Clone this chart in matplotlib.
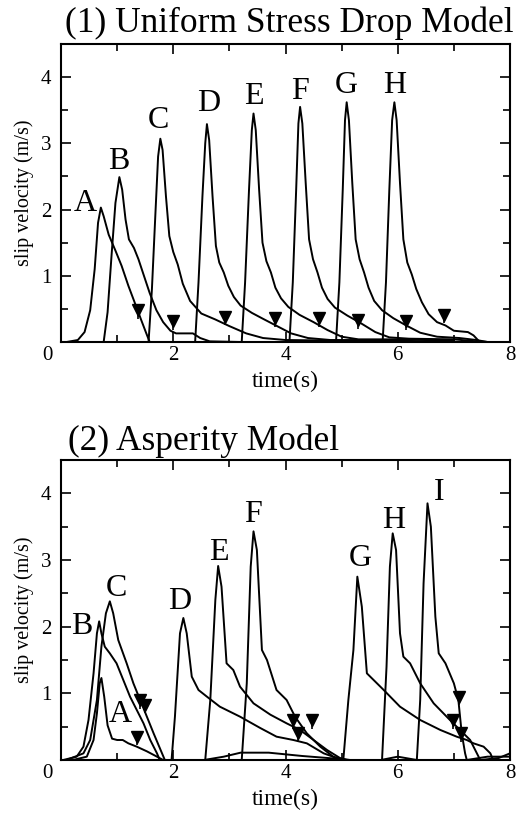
import numpy as np
import matplotlib
matplotlib.use("Agg")
import matplotlib.pyplot as plt
from matplotlib.ticker import MultipleLocator

# --- data: (time s, slip velocity m/s) ---
# (1) uniform stress drop model
UNI_A = [(0.10, 0.0), (0.30, 0.03), (0.42, 0.15), (0.52, 0.48), (0.60, 1.10), (0.66, 1.80),
         (0.71, 2.03), (0.76, 1.90), (0.85, 1.62), (0.97, 1.38), (1.08, 1.15), (1.20, 0.85),
         (1.32, 0.58), (1.43, 0.33), (1.52, 0.13), (1.58, 0.0)]
UNI_B = [(0.76, 0.0), (0.83, 0.45), (0.90, 1.30), (0.97, 2.10), (1.04, 2.49), (1.09, 2.30),
         (1.15, 1.85), (1.21, 1.55), (1.30, 1.42), (1.38, 1.25), (1.47, 1.02), (1.58, 0.74),
         (1.70, 0.48), (1.82, 0.30), (1.95, 0.17), (2.05, 0.13), (2.35, 0.13), (2.48, 0.06),
         (2.65, 0.01), (3.20, 0.0)]
UNI_C = [(1.56, 0.0), (1.62, 0.80), (1.68, 1.90), (1.73, 2.80), (1.77, 3.07), (1.81, 2.90),
         (1.87, 2.20), (1.93, 1.60), (2.00, 1.36), (2.08, 1.17), (2.17, 0.88), (2.30, 0.62),
         (2.50, 0.43), (2.75, 0.34), (3.00, 0.24), (3.30, 0.13), (3.60, 0.06), (4.00, 0.03),
         (5.00, 0.02), (6.00, 0.0)]
UNI_D = [(2.39, 0.0), (2.45, 0.90), (2.52, 2.20), (2.57, 3.00), (2.60, 3.29), (2.64, 3.05),
         (2.70, 2.20), (2.76, 1.45), (2.82, 1.20), (2.90, 1.05), (2.98, 0.85), (3.08, 0.68),
         (3.20, 0.55), (3.40, 0.44), (3.60, 0.35), (3.85, 0.24), (4.10, 0.13), (4.40, 0.06),
         (4.80, 0.03), (5.50, 0.03), (6.50, 0.01)]
UNI_E = [(3.22, 0.0), (3.28, 0.90), (3.35, 2.30), (3.40, 3.20), (3.43, 3.45), (3.47, 3.20),
         (3.53, 2.30), (3.59, 1.50), (3.66, 1.22), (3.74, 1.05), (3.82, 0.82), (3.92, 0.66),
         (4.05, 0.53), (4.25, 0.41), (4.50, 0.30), (4.75, 0.18), (5.00, 0.08), (5.30, 0.04),
         (6.00, 0.04), (7.00, 0.02)]
UNI_F = [(4.07, 0.0), (4.13, 0.90), (4.19, 2.30), (4.23, 3.30), (4.26, 3.55), (4.30, 3.30),
         (4.36, 2.40), (4.42, 1.55), (4.49, 1.25), (4.57, 1.05), (4.65, 0.82), (4.75, 0.65),
         (4.88, 0.52), (5.10, 0.40), (5.35, 0.28), (5.60, 0.15), (5.85, 0.07), (6.20, 0.05),
         (7.00, 0.04), (7.40, 0.01)]
UNI_G = [(4.90, 0.0), (4.96, 0.90), (5.02, 2.30), (5.06, 3.35), (5.09, 3.62), (5.13, 3.35),
         (5.19, 2.40), (5.25, 1.55), (5.32, 1.25), (5.40, 1.05), (5.48, 0.82), (5.58, 0.62),
         (5.72, 0.48), (5.92, 0.36), (6.15, 0.25), (6.40, 0.14), (6.70, 0.08), (7.10, 0.06),
         (7.40, 0.03), (7.60, 0.0)]
UNI_H = [(5.73, 0.0), (5.79, 0.90), (5.85, 2.30), (5.90, 3.35), (5.94, 3.62), (5.98, 3.35),
         (6.04, 2.40), (6.10, 1.55), (6.17, 1.20), (6.25, 1.02), (6.33, 0.80), (6.43, 0.60),
         (6.55, 0.42), (6.70, 0.30), (6.85, 0.25), (7.00, 0.17), (7.25, 0.15), (7.35, 0.10),
         (7.45, 0.01), (7.60, 0.0)]
UNI_CURVES = [UNI_A, UNI_B, UNI_C, UNI_D, UNI_E, UNI_F, UNI_G, UNI_H]
UNI_LABELS = ["A", "B", "C", "D", "E", "F", "G", "H"]
UNI_LABEL_T = [0.43, 1.03, 1.73, 2.63, 3.43, 4.26, 5.09, 5.94]
UNI_LABEL_V = [2.09, 2.72, 3.35, 3.60, 3.70, 3.79, 3.87, 3.87]
UNI_TRI_T = [1.38, 2.00, 2.92, 3.81, 4.59, 5.30, 6.15, 6.82]
UNI_TRI_V = [0.48, 0.31, 0.38, 0.36, 0.36, 0.33, 0.31, 0.41]

# (2) asperity model
ASP_A = [(0.21, 0.0), (0.46, 0.05), (0.58, 0.30), (0.64, 0.70), (0.69, 1.15), (0.72, 1.23),
         (0.77, 0.95), (0.83, 0.52), (0.91, 0.32), (1.00, 0.30), (1.10, 0.30), (1.20, 0.25),
         (1.35, 0.20), (1.53, 0.13), (1.71, 0.05), (1.82, 0.0)]
ASP_B = [(0.04, 0.0), (0.28, 0.05), (0.40, 0.20), (0.49, 0.60), (0.58, 1.30), (0.64, 1.90),
         (0.68, 2.08), (0.72, 1.90), (0.78, 1.70), (0.87, 1.60), (0.99, 1.45), (1.11, 1.20),
         (1.23, 0.95), (1.35, 0.75), (1.47, 0.55), (1.59, 0.30), (1.71, 0.10), (1.76, 0.0)]
ASP_C = [(0.10, 0.0), (0.40, 0.10), (0.52, 0.30), (0.64, 0.90), (0.72, 1.70), (0.80, 2.20),
         (0.87, 2.38), (0.93, 2.20), (1.02, 1.80), (1.17, 1.45), (1.29, 1.15), (1.41, 0.90),
         (1.53, 0.65), (1.65, 0.40), (1.76, 0.18), (1.85, 0.0)]
ASP_D = [(1.97, 0.0), (2.03, 0.65), (2.12, 1.90), (2.18, 2.13), (2.24, 1.90), (2.33, 1.25),
         (2.45, 1.05), (2.60, 0.95), (2.83, 0.80), (3.19, 0.65), (3.55, 0.48), (3.84, 0.35),
         (4.14, 0.30), (4.38, 0.25), (4.68, 0.10), (4.91, 0.03), (5.15, 0.0)]
ASP_E = [(2.57, 0.0), (2.66, 0.90), (2.75, 2.40), (2.80, 2.91), (2.86, 2.60), (2.95, 1.45),
         (3.07, 1.35), (3.19, 1.10), (3.43, 0.85), (3.73, 0.68), (4.02, 0.55), (4.26, 0.45),
         (4.50, 0.30), (4.74, 0.15), (4.97, 0.03), (5.09, 0.0)]
ASP_F = [(3.22, 0.0), (3.31, 1.15), (3.38, 2.90), (3.43, 3.43), (3.49, 3.15), (3.58, 1.65),
         (3.67, 1.50), (3.84, 1.05), (4.02, 0.90), (4.17, 0.65), (4.38, 0.40), (4.62, 0.20),
         (4.85, 0.05), (5.03, 0.0)]
ASP_G = [(2.55, 0.0), (2.90, 0.05), (3.20, 0.11), (3.70, 0.11), (4.30, 0.06), (4.90, 0.02),
         (5.03, 0.0), (5.12, 0.90), (5.21, 1.65), (5.28, 2.75), (5.36, 2.30), (5.45, 1.30),
         (5.57, 1.20), (5.75, 1.05), (6.04, 0.80), (6.40, 0.60), (6.76, 0.45), (7.05, 0.35),
         (7.23, 0.30), (7.35, 0.25), (7.53, 0.20), (7.65, 0.10), (7.70, 0.0)]
ASP_H = [(5.72, 0.0), (5.80, 1.40), (5.86, 2.90), (5.91, 3.40), (5.97, 3.15), (6.04, 1.90),
         (6.10, 1.55), (6.22, 1.45), (6.40, 1.15), (6.64, 0.85), (6.93, 0.60), (7.11, 0.45),
         (7.29, 0.30), (7.41, 0.10), (7.47, 0.0), (7.80, 0.03), (8.00, 0.10)]
ASP_I = [(5.70, 0.0), (6.00, 0.05), (6.34, 0.0), (6.40, 0.90), (6.46, 2.65), (6.53, 3.85),
         (6.59, 3.50), (6.67, 2.15), (6.73, 1.60), (6.85, 1.45), (7.00, 1.15), (7.08, 0.90),
         (7.14, 0.40), (7.20, 0.10), (7.23, 0.0), (7.60, 0.05), (8.00, 0.05)]
ASP_CURVES = [ASP_A, ASP_B, ASP_C, ASP_D, ASP_E, ASP_F, ASP_G, ASP_H, ASP_I]
ASP_LABELS = ["B", "C", "A", "D", "E", "F", "G", "H", "I"]
ASP_LABEL_T = [0.37, 0.99, 1.05, 2.11, 2.82, 3.42, 5.33, 5.92, 6.74]
ASP_LABEL_V = [2.00, 2.58, 0.68, 2.38, 3.12, 3.68, 3.02, 3.60, 4.02]
ASP_TRI_T = [1.35, 1.40, 1.50, 4.14, 4.22, 4.47, 6.99, 7.10, 7.12]
ASP_TRI_V = [0.35, 0.90, 0.83, 0.60, 0.40, 0.60, 0.60, 0.95, 0.40]

SERIF = "Liberation Serif"
plt.rcParams["font.family"] = SERIF


def setup_axes(ax):
    ax.set_xlim(0, 8)
    ax.set_ylim(0, 4.5)
    ax.xaxis.set_major_locator(MultipleLocator(2))
    ax.xaxis.set_minor_locator(MultipleLocator(1))
    ax.yaxis.set_major_locator(MultipleLocator(1))
    ax.yaxis.set_minor_locator(MultipleLocator(0.5))
    ax.tick_params(which="both", direction="in", top=True, right=True, width=1.2)
    ax.tick_params(which="major", length=7)
    ax.tick_params(which="minor", length=5)
    ax.tick_params(axis="x", which="major", pad=3, labelsize=15)
    ax.tick_params(axis="y", which="major", pad=7, labelsize=15)
    ax.set_xticks([0, 2, 4, 6, 8])
    ax.set_xticklabels(["", "2", "4", "6", "8"])
    ax.set_yticks([0, 1, 2, 3, 4])
    ax.set_yticklabels(["", "1", "2", "3", "4"])
    for s in ax.spines.values():
        s.set_linewidth(1.5)
    ax.annotate("0", xy=(0, 0), xycoords="axes fraction", xytext=(-10, -3),
                textcoords="offset points", ha="center", va="top", fontsize=15)
    ax.set_xlabel("time(s)", fontsize=17, labelpad=4)
    ax.set_ylabel("slip velocity (m/s)", fontsize=14.5, labelpad=5)


def draw_panel(ax, curves, labels, lt, lv, tri_t, tri_v):
    for c in curves:
        t = [p[0] for p in c]
        v = [p[1] for p in c]
        ax.plot(t, v, color="black", lw=1.4, solid_joinstyle="round")
    for name, x, y in zip(labels, lt, lv):
        ax.text(x, y, name, ha="center", va="center", fontsize=23)
    ax.vlines(tri_t, np.array(tri_v) - 0.13, tri_v, color="black", lw=1.2)
    ax.plot(tri_t, tri_v, linestyle="none", marker="v", color="black", markersize=8.5)


fig = plt.figure(figsize=(5.29, 8.13), dpi=100)
ax1 = fig.add_axes([61 / 529, 1 - 342 / 813, 449 / 529, 298 / 813])
ax2 = fig.add_axes([61 / 529, 1 - 760 / 813, 449 / 529, 300 / 813])

setup_axes(ax1)
setup_axes(ax2)
draw_panel(ax1, UNI_CURVES, UNI_LABELS, UNI_LABEL_T, UNI_LABEL_V, UNI_TRI_T, UNI_TRI_V)
draw_panel(ax2, ASP_CURVES, ASP_LABELS, ASP_LABEL_T, ASP_LABEL_V, ASP_TRI_T, ASP_TRI_V)

fig.text(65 / 529, 1 - 32 / 813, "(1) Uniform Stress Drop Model", fontsize=25.5, va="baseline")
fig.text(68 / 529, 1 - 450 / 813, "(2) Asperity Model", fontsize=25.5, va="baseline")

fig.savefig("out.png", dpi=100)
plt.close()
